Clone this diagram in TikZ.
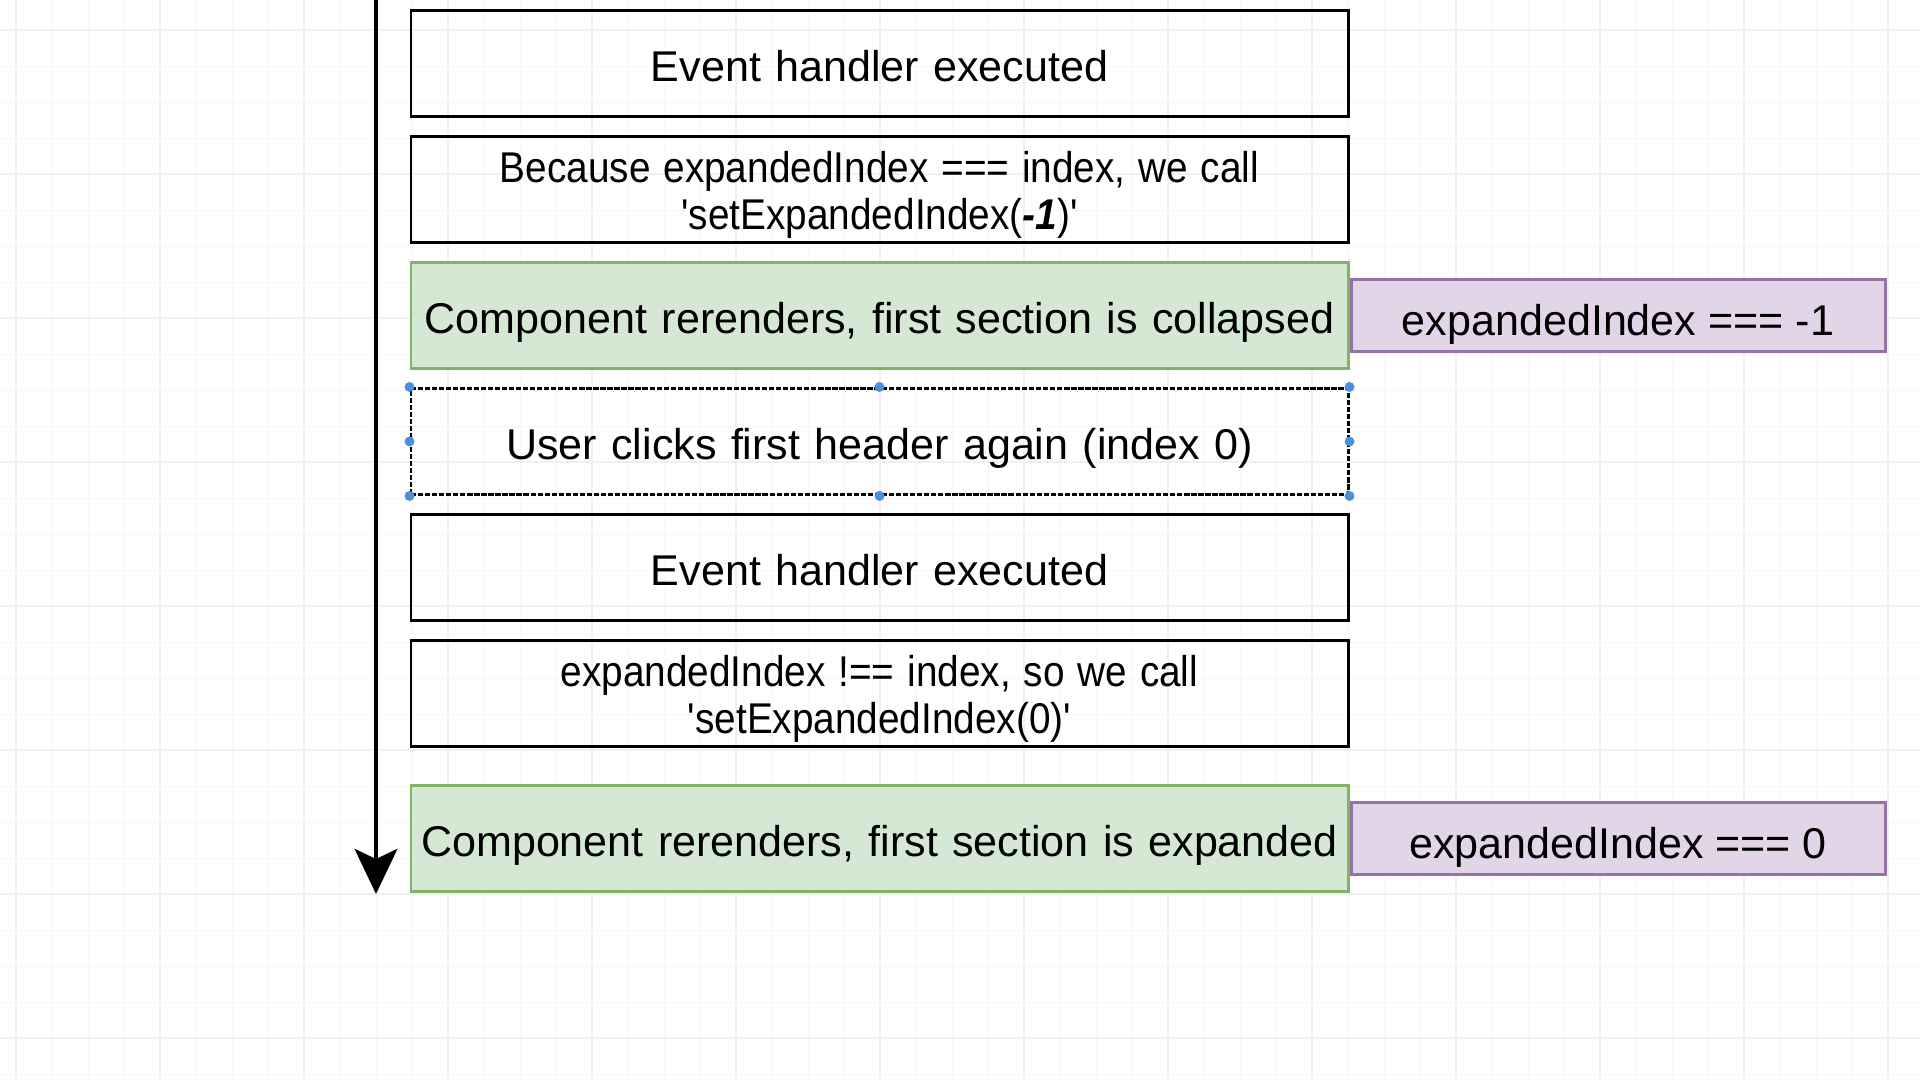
\documentclass[tikz,border=0pt]{standalone}
\usepackage{fontspec}
\setmainfont{Liberation Sans}
\usetikzlibrary{positioning,arrows.meta}
\definecolor{greenfill}{HTML}{D5E8D4}
\definecolor{greenline}{HTML}{82B366}
\definecolor{purplefill}{HTML}{E1D5E7}
\definecolor{purpleline}{HTML}{9673A6}
\definecolor{handleblue}{HTML}{4A90E2}
\newcommand{\squeezed}[1]{\rule{0pt}{0.84cm}\scalebox{0.9}[1]{#1}}
\tikzstyle{block} = [rectangle, draw, line width=1.7pt, minimum width=18.74cm, minimum height=2.12cm, text width=18.5cm, inner sep=0pt, align=center, font=\fontsize{24.5}{26.5}\selectfont]
\tikzstyle{single} = [block, text height=21pt, text depth=1pt]
\tikzstyle{render} = [single, fill=greenfill, draw=greenline]
\tikzstyle{selected} = [single, dash pattern=on 3pt off 1pt]
\tikzstyle{state} = [rectangle, draw=purpleline, fill=purplefill, line width=1.7pt, minimum width=10.68cm, minimum height=1.44cm, text height=23pt, text depth=0.6pt, anchor=west, font=\fontsize{24.5}{26.5}\selectfont]
\tikzstyle{handle} = [circle, fill=handleblue, inner sep=0pt, minimum size=0.2cm]
\tikzstyle{timeline} = [line width=2.8pt, -{Stealth[length=0.9cm, width=0.85cm, inset=0.2cm]}]

\begin{document}
\begin{tikzpicture}[node distance=0.34cm]
    \useasboundingbox (0,0) rectangle (38.4,-21.6);
    % faint editor grid
    \foreach \x in {0.32,1.04,...,38.4} \draw[black!3, line width=0.5pt] (\x,0) -- (\x,-21.6);
    \foreach \y in {-0.6,-1.32,...,-21.6} \draw[black!3, line width=0.5pt] (0,\y) -- (38.4,\y);
    \foreach \x in {0.32,3.2,...,38.4} \draw[black!6, line width=0.6pt] (\x,0) -- (\x,-21.6);
    \foreach \y in {-0.6,-3.48,...,-21.6} \draw[black!6, line width=0.6pt] (0,\y) -- (38.4,\y);

    \node [single] (exec1) at (17.59,-1.27) {Event handler executed};
    \node [block, below=of exec1] (call1) {\squeezed{Because expandedIndex === index, we call}\\\scalebox{0.9}[1]{\textquotesingle setExpandedIndex(\textbf{\textit{-1}})\textquotesingle}};
    \node [render, below=of call1] (render1) {Component rerenders, first section is collapsed};
    \node [selected, below=of render1] (click) {User clicks first header again (index 0)};
    \node [single, below=of click] (exec2) {Event handler executed};
    \node [block, below=of exec2] (call2) {\squeezed{expandedIndex !== index, so we call}\\\scalebox{0.9}[1]{\textquotesingle setExpandedIndex(0)\textquotesingle}};
    \node [render, below=0.72cm of call2] (render2) {Component rerenders, first section is expanded};

    \node [state, right=0pt of render1.east] (state1) {expandedIndex === -1};
    \node [state, right=0pt of render2.east] (state2) {expandedIndex === 0};

    % selection handles
    \foreach \a in {north west,north,north east,west,east,south west,south,south east}
        \node [handle] at (click.\a) {};

    \coordinate (start) at (7.52,0);
    \coordinate (end) at (7.52,-17.88);
    \draw[timeline] (start) -- (end);
\end{tikzpicture}
\end{document}
